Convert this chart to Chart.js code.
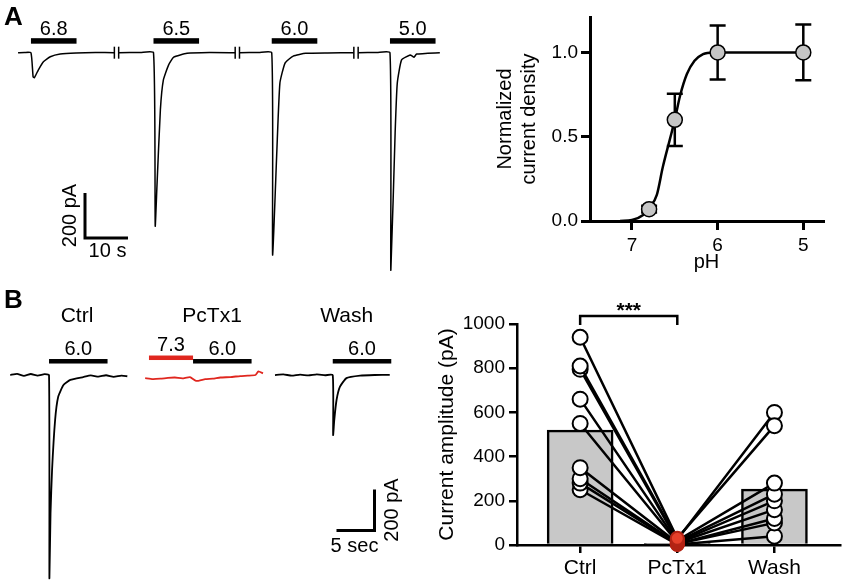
<!DOCTYPE html>
<html>
<head>
<meta charset="utf-8">
<script src="https://cdn.jsdelivr.net/npm/chart.js@4.4.1/dist/chart.umd.min.js"></script>
<style>
  body { margin: 0; background: #fff; }
  #fig { position: relative; width: 850px; height: 584px; overflow: hidden; }
  canvas { position: absolute; }
</style>
</head>
<body>
<div id="fig">
  <canvas id="aTrace" width="445" height="290" style="left:0;top:0"></canvas>
  <canvas id="aDose" width="370" height="290" style="left:480px;top:0"></canvas>
  <canvas id="bTrace" width="420" height="294" style="left:0;top:290px"></canvas>
  <canvas id="bBar" width="430" height="294" style="left:420px;top:290px"></canvas>
</div>
<script>
// ---- A, left: currents evoked by pH steps ([s from switch, pA]) ----
const phSteps = ['6.8', '6.5', '6.0', '5.0'];
const pulseA = 10.6;
const sweep68 = [[-3, 0], [-1.5, 1], [0, 0], [0.5, -107], [0.8, -111], [1.7, -77], [2.9, -40], [4.5, -18], [6.8, -6], [10.5, -1], [15, 1], [19.4, 0]];
const sweep65 = [[-8.1, 0], [-3, 1], [0, 0], [0.4, -770], [0.8, -595], [1.6, -254], [2.3, -121], [3.5, -55], [4.7, -20], [7.8, -3], [13, 1], [19, 0]];
const sweep60 = [[-7.5, 0], [-3, 1], [0, 0], [0.2, -898], [1.2, -432], [1.9, -135], [3.1, -46], [5, -15], [7.9, -3], [13, -1], [19.1, 0]];
const sweep50 = [[-7.4, 0], [-3, 1], [0, 0], [0.2, -966], [1.2, -357], [1.7, -135], [2.7, -32], [4.7, -10], [5.6, -20], [6.2, -6], [11.6, 0]];
const sweepsA = [sweep68, sweep65, sweep60, sweep50];

// ---- A, right: pH dependence ----
const phTested = [6.8, 6.5, 6.0, 5.0];
const normCurrent = [0.07, 0.60, 1.00, 1.00];
const normSem = [0.02, 0.155, 0.16, 0.165];
const fitPh = [7.14, 7.0, 6.87, 6.79, 6.71, 6.64, 6.56, 6.5, 6.44, 6.36, 6.27, 6.17, 6.05, 5.0];
const fitCurrent = [0, 0.006, 0.036, 0.083, 0.155, 0.32, 0.48, 0.6, 0.74, 0.87, 0.95, 0.99, 1.0, 1.0];
const phTicks = [7, 6, 5];
const densTicks = [0, 0.5, 1.0];

// ---- B, left: pH 6.0 currents, Ctrl / PcTx1 / Wash ----
const conditions = ['Ctrl', 'PcTx1', 'Wash'];
const pulseB = 7.7;
const prePulseB = 5.8;
const ctrlTrace = [[-5.1, 0], [-4.2, 6], [-3.3, -4], [-2.4, 5], [-1.5, -3], [-0.6, 4], [0, 0], [0.05, -991], [0.2, -673], [0.4, -464], [0.8, -220], [1.2, -107], [1.9, -49], [2.8, -24], [4.5, -10], [5.5, -2], [6.5, -8], [7.5, -1], [8.5, -9], [9.5, -3], [10.3, -6]];
const pctxTrace = [[-6.3, -15], [-5.3, -20], [-4.3, -18], [-3.3, -14], [-2.4, -12], [-1.4, -16], [-0.4, -10], [0.4, -29], [1.6, -20], [2.6, -18], [3.6, -12], [4.9, -10], [6.2, -5], [7.2, -3], [8.2, 0], [8.6, 18], [9.2, 8]];
const washTrace = [[-7.6, 0], [-6.5, 3], [-5.4, -3], [-4.3, 2], [-3.2, -2], [-2.1, 3], [-1, -1], [0, 0], [0.05, -293], [0.2, -220], [0.5, -122], [0.95, -57], [1.8, -15], [3.6, -3], [5.5, 0], [7.5, 1]];
const tracesB = [ctrlTrace, pctxTrace, washTrace];

// ---- B, right: current amplitude (pA) ----
const meanAmp = [520, 8, 253];
const ctrlAmp = [940, 810, 795, 660, 550, 350, 300, 280, 250];
const pctxAmp = [30, 25, 20, 15, 12, 10, 5, 5, 2];
const washAmp = [540, 600, 280, 230, 200, 160, 120, 100, 40];
const ampTicks = [0, 200, 400, 600, 800, 1000];

// layout: where each sweep's solution switch sits on the page (s)
const onsetA = [7.2, 35.7, 63.2, 90.7];
const onsetB = [6.45, 25.4, 43.78];
const nameDx = [28, 19, 14];

const FONT = '"Liberation Sans", Arial, Helvetica, sans-serif';
Chart.defaults.font.family = FONT;
Chart.defaults.color = '#000';
Chart.defaults.animation = false;

const noAxes = {
  x: { type: 'linear', display: false },
  y: { type: 'linear', display: false }
};
const quiet = { legend: { display: false }, tooltip: { enabled: false } };

function vText(ctx, s, x, y) {
  ctx.save();
  ctx.translate(x, y);
  ctx.rotate(-Math.PI / 2);
  ctx.textAlign = 'center';
  ctx.textBaseline = 'middle';
  ctx.fillText(s, 0, 0);
  ctx.restore();
}

// ---------- A traces ----------
const aTraceDeco = {
  id: 'aTraceDeco',
  afterDraw(chart) {
    const { ctx, scales: { x, y } } = chart;
    const base = y.getPixelForValue(0);
    ctx.save();
    ctx.fillStyle = '#000';
    ctx.strokeStyle = '#000';
    ctx.font = 'bold 26px ' + FONT;
    ctx.textAlign = 'left';
    ctx.fillText('A', 4, 25);

    ctx.font = '20px ' + FONT;
    ctx.textAlign = 'center';
    phSteps.forEach((lab, i) => {
      const x0 = x.getPixelForValue(onsetA[i]);
      const x1 = x.getPixelForValue(onsetA[i] + pulseA);
      ctx.fillRect(x0, base - 14.5, x1 - x0, 5.5);
      ctx.fillText(lab, (x0 + x1) / 2, base - 18);
    });

    // break marks between sweeps
    ctx.lineWidth = 1.5;
    sweepsA.forEach((s, i) => {
      const ends = [];
      if (i > 0) ends.push(onsetA[i] + s[0][0]);
      if (i < sweepsA.length - 1) ends.push(onsetA[i] + s[s.length - 1][0]);
      ends.forEach(t => {
        const px = x.getPixelForValue(t);
        ctx.beginPath();
        ctx.moveTo(px, base - 6);
        ctx.lineTo(px, base + 6);
        ctx.stroke();
      });
    });

    // scale bar 10 s / 200 pA
    const cx = 85, cy = 238;
    const w = x.getPixelForValue(10) - x.getPixelForValue(0);
    const h = y.getPixelForValue(0) - y.getPixelForValue(200);
    ctx.lineWidth = 3;
    ctx.beginPath();
    ctx.moveTo(cx, cy - h);
    ctx.lineTo(cx, cy);
    ctx.lineTo(cx + w, cy);
    ctx.stroke();
    ctx.fillText('10 s', cx + w / 2 + 1, 257);
    vText(ctx, '200 pA', 70, cy - h / 2);
    ctx.restore();
  }
};

new Chart(document.getElementById('aTrace'), {
  type: 'line',
  data: {
    datasets: sweepsA.map((s, i) => ({
      data: s.map(p => ({ x: p[0] + onsetA[i], y: p[1] })),
      borderColor: '#000',
      borderWidth: 1.5,
      pointRadius: 0,
      tension: 0.15
    }))
  },
  options: {
    responsive: false,
    devicePixelRatio: 1,
    events: [],
    layout: { padding: 0 },
    scales: {
      x: { ...noAxes.x, min: 0, max: 103.5 },
      y: { ...noAxes.y, min: -1054, max: 234 }
    },
    plugins: quiet
  },
  plugins: [aTraceDeco]
});

// ---------- A dose response ----------
const semBars = {
  id: 'semBars',
  beforeDatasetsDraw(chart) {
    const { ctx, scales: { x, y } } = chart;
    ctx.save();
    ctx.strokeStyle = '#000';
    ctx.lineWidth = 2.5;
    phTested.forEach((p, i) => {
      const px = x.getPixelForValue(p);
      const lo = y.getPixelForValue(normCurrent[i] - normSem[i]);
      const hi = y.getPixelForValue(normCurrent[i] + normSem[i]);
      ctx.beginPath();
      ctx.moveTo(px, lo); ctx.lineTo(px, hi);
      ctx.moveTo(px - 8, lo); ctx.lineTo(px + 8, lo);
      ctx.moveTo(px - 8, hi); ctx.lineTo(px + 8, hi);
      ctx.stroke();
    });
    ctx.restore();
  }
};

const axisStyle = {
  border: { color: '#000', width: 3 },
  grid: { drawOnChartArea: false, color: '#000', lineWidth: 3, tickLength: 9 }
};

new Chart(document.getElementById('aDose'), {
  type: 'scatter',
  data: {
    datasets: [
      {
        type: 'line',
        data: fitPh.map((p, i) => ({ x: p, y: fitCurrent[i] })),
        borderColor: '#000',
        borderWidth: 2.5,
        pointRadius: 0,
        cubicInterpolationMode: 'monotone',
        clip: false,
        order: 2
      },
      {
        data: phTested.map((p, i) => ({ x: p, y: normCurrent[i] })),
        pointRadius: 7.5,
        pointBackgroundColor: '#c6c6c6',
        pointBorderColor: '#000',
        pointBorderWidth: 1.5,
        clip: false,
        order: 1
      }
    ]
  },
  options: {
    responsive: false,
    devicePixelRatio: 1,
    events: [],
    layout: { padding: { top: 17, right: 27, left: 0, bottom: 0 } },
    scales: {
      x: {
        type: 'linear', reverse: true, min: 4.77, max: 7.49,
        ...axisStyle,
        afterBuildTicks: s => { s.ticks = phTicks.map(v => ({ value: v })); },
        afterFit: s => { s.height = 69; },
        ticks: { font: { size: 19 }, padding: 4 },
        title: { display: true, text: 'pH', font: { size: 20 }, padding: { top: 0, bottom: 16 } }
      },
      y: {
        min: 0, max: 1.21,
        ...axisStyle,
        afterBuildTicks: s => { s.ticks = densTicks.map(v => ({ value: v })); },
        afterFit: s => { s.width = 110; },
        ticks: { font: { size: 19 }, padding: 3, callback: v => v.toFixed(1) },
        title: { display: true, text: ['Normalized', 'current density'], font: { size: 20 }, padding: { top: 13, bottom: 0 } }
      }
    },
    plugins: quiet
  },
  plugins: [semBars]
});

// ---------- B traces ----------
const bTraceDeco = {
  id: 'bTraceDeco',
  afterDraw(chart) {
    const { ctx, scales: { x, y } } = chart;
    const base = y.getPixelForValue(0);
    ctx.save();
    ctx.fillStyle = '#000';
    ctx.strokeStyle = '#000';
    ctx.font = 'bold 26px ' + FONT;
    ctx.textAlign = 'left';
    ctx.fillText('B', 4, 18);

    ctx.textAlign = 'center';
    conditions.forEach((name, i) => {
      const x0 = x.getPixelForValue(onsetB[i]);
      const x1 = x.getPixelForValue(onsetB[i] + pulseB);
      ctx.fillStyle = '#000';
      ctx.font = '21px ' + FONT;
      ctx.fillText(name, x0 + nameDx[i], base - 53);
      ctx.fillRect(x0, base - 16, x1 - x0, 4.5);
      ctx.font = '20px ' + FONT;
      ctx.fillText('6.0', (x0 + x1) / 2, base - 20);
      if (name === 'PcTx1') {
        const xr = x.getPixelForValue(onsetB[i] - prePulseB);
        ctx.fillStyle = '#e0271f';
        ctx.fillRect(xr, base - 19.5, x0 - xr, 4.5);
        ctx.fillStyle = '#000';
        ctx.fillText('7.3', (xr + x0) / 2, base - 24.5);
      }
    });

    // scale bar 5 sec / 200 pA
    const cx = 374.5, cy = 240.5;
    const w = x.getPixelForValue(5) - x.getPixelForValue(0);
    const h = y.getPixelForValue(0) - y.getPixelForValue(200);
    ctx.lineWidth = 3;
    ctx.beginPath();
    ctx.moveTo(cx - w, cy);
    ctx.lineTo(cx, cy);
    ctx.lineTo(cx, cy - h);
    ctx.stroke();
    ctx.font = '20px ' + FONT;
    ctx.fillText('5 sec', cx - w / 2 - 1, 261.5);
    vText(ctx, '200 pA', 392, cy - h / 2);
    ctx.restore();
  }
};

new Chart(document.getElementById('bTrace'), {
  type: 'line',
  data: {
    datasets: tracesB.map((s, i) => ({
      data: s.map(p => ({ x: p[0] + onsetB[i], y: p[1] })),
      borderColor: i === 1 ? '#e0271f' : '#000',
      borderWidth: 1.8,
      pointRadius: 0,
      tension: 0.15
    }))
  },
  options: {
    responsive: false,
    devicePixelRatio: 1,
    events: [],
    layout: { padding: 0 },
    scales: {
      x: { ...noAxes.x, min: 0, max: 55.26 },
      y: { ...noAxes.y, min: -1020, max: 415 }
    },
    plugins: quiet
  },
  plugins: [bTraceDeco]
});

// ---------- B amplitudes ----------
const sigBracket = {
  id: 'sigBracket',
  afterDraw(chart) {
    const { ctx, scales: { x } } = chart;
    const x0 = x.getPixelForValue(0), x1 = x.getPixelForValue(1);
    ctx.save();
    ctx.strokeStyle = '#000';
    ctx.lineWidth = 2.5;
    ctx.beginPath();
    ctx.moveTo(x0, 35); ctx.lineTo(x0, 26); ctx.lineTo(x1, 26); ctx.lineTo(x1, 35);
    ctx.stroke();
    ctx.fillStyle = '#000';
    ctx.font = 'bold 21px ' + FONT;
    ctx.textAlign = 'center';
    ctx.fillText('***', (x0 + x1) / 2, 27);
    ctx.restore();
  }
};

const barAxis = {
  border: { color: '#000', width: 2.5 },
  grid: { drawOnChartArea: false, color: '#000', lineWidth: 2.5, tickLength: 8, offset: false }
};

new Chart(document.getElementById('bBar'), {
  type: 'bar',
  data: {
    datasets: [
      {
        type: 'bar',
        data: meanAmp.map((v, i) => ({ x: i, y: v })),
        backgroundColor: '#c8c8c8',
        borderColor: '#000',
        borderWidth: 2.5,
        barThickness: 66,
        order: 3
      },
      ...ctrlAmp.map((c, i) => ({
        type: 'line',
        data: [{ x: 0, y: c }, { x: 1, y: pctxAmp[i] }, { x: 2, y: washAmp[i] }],
        borderColor: '#000',
        borderWidth: 2.5,
        pointRadius: [7.5, 6.5, 7.5],
        pointBackgroundColor: ['#fff', '#e6402a', '#fff'],
        pointBorderColor: ['#000', '#b32314', '#000'],
        pointBorderWidth: 2,
        clip: false,
        order: 1
      }))
    ]
  },
  options: {
    responsive: false,
    devicePixelRatio: 1,
    events: [],
    layout: { padding: { top: 34, right: 5, left: 0, bottom: 0 } },
    scales: {
      x: {
        type: 'linear', min: -0.65, max: 2.68, offset: false,
        ...barAxis,
        afterBuildTicks: s => { s.ticks = conditions.map((c, i) => ({ value: i })); },
        afterFit: s => { s.height = 39; },
        ticks: { font: { size: 21 }, padding: 3, callback: v => conditions[v] }
      },
      y: {
        min: 0, max: 1000,
        ...barAxis,
        afterBuildTicks: s => { s.ticks = ampTicks.map(v => ({ value: v })); },
        afterFit: s => { s.width = 97; },
        ticks: { font: { size: 19 }, padding: 4, callback: v => String(v) },
        title: { display: true, text: 'Current amplitude (pA)', font: { size: 21 }, padding: { top: 15, bottom: 0 } }
      }
    },
    plugins: quiet
  },
  plugins: [sigBracket]
});
</script>
</body>
</html>
